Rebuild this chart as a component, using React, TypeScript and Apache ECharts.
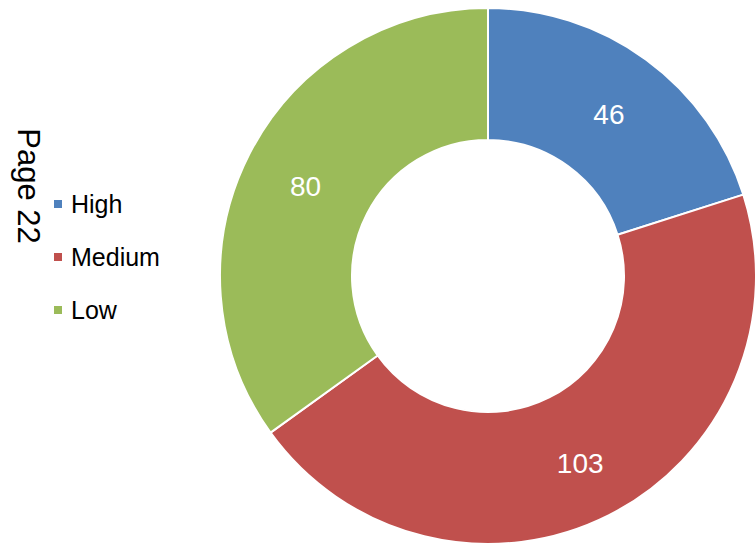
import React, { useEffect, useRef } from "react";
import * as echarts from "echarts";

const categories = ["High", "Medium", "Low"];
const values = [46, 103, 80];
const colors = ["#4F81BD", "#C0504D", "#9BBB59"];
const sideTitle = "Page 22";

export default function App() {
  const ref = useRef<HTMLDivElement>(null);
  useEffect(() => {
    if (!ref.current) return;
    const chart = echarts.init(ref.current, null, { renderer: "svg" });
    chart.setOption({
      animation: false,
      color: colors,
      textStyle: { fontFamily: "Liberation Sans, Arial, sans-serif" },
      legend: {
        orient: "vertical",
        left: 52,
        top: 191,
        padding: 0,
        icon: "rect",
        itemWidth: 10,
        itemHeight: 10,
        itemGap: 27,
        data: categories,
        textStyle: { fontSize: 25, lineHeight: 26, color: "#000", padding: [0, 0, 0, 3] },
      },
      graphic: [
        {
          type: "text",
          x: 28,
          y: 186,
          rotation: -Math.PI / 2,
          style: {
            text: sideTitle,
            fontSize: 31,
            fontFamily: "Liberation Sans, Arial, sans-serif",
            fill: "#000",
            align: "center",
            verticalAlign: "middle",
          },
        },
      ],
      series: [
        {
          type: "pie",
          center: [488, 276],
          radius: [136, 268],
          startAngle: 90,
          clockwise: true,
          avoidLabelOverlap: false,
          itemStyle: { borderColor: "#fff", borderWidth: 2 },
          label: {
            show: true,
            position: "inside",
            formatter: "{c}",
            color: "#fff",
            fontSize: 28,
            offset: [0, 4],
            fontFamily: "Liberation Sans, Arial, sans-serif",
          },
          labelLine: { show: false },
          emphasis: { disabled: true },
          data: categories.map((name, i) => ({ name, value: values[i] })),
        },
      ],
    });
    return () => chart.dispose();
  }, []);
  return (
    <div
      ref={ref}
      style={{ position: "fixed", left: 0, top: 0, width: 755, height: 544, background: "#fff" }}
    />
  );
}
